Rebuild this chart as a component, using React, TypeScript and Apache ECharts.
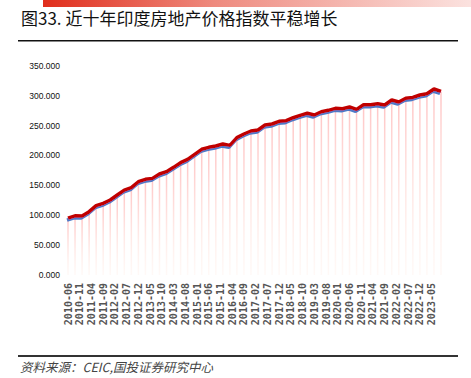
import React, { useEffect, useRef } from "react";
import * as echarts from "echarts";

// Quarterly index values, 2010-06 .. 2023-09
const quarterValues: number[] = [
  95, 99, 98.7, 105.9, 115.9, 119.9, 125.4, 133.8, 142, 146,
  156, 160, 161.6, 168.9, 172.8, 180, 187.8, 193.4, 201.8, 210.2,
  213.5, 215.7, 219, 216.8, 229.8, 235.8, 240.8, 242.5, 250.8, 252.5,
  257, 258, 263, 267, 270.4, 267.6, 273, 275.4, 278.7, 278,
  281, 277, 284.8, 284.8, 286.5, 284.3, 292.6, 289.3, 295.5, 297,
  301, 303, 311, 307,
];
const startYear = 2010;
const startMonth = 6;
const endYear = 2023;
const endMonth = 9;
const yTicks = [0, 50, 100, 150, 200, 250, 300, 350];

const titleText = "图33. 近十年印度房地产价格指数平稳增长";
const sourceText = "资料来源：CEIC,国投证券研究中心";

function buildMonths(): string[] {
  const out: string[] = [];
  let y = startYear;
  let m = startMonth;
  while (y < endYear || (y === endYear && m <= endMonth)) {
    out.push(`${y}-${m < 10 ? "0" + m : m}`);
    m++;
    if (m > 12) {
      m = 1;
      y++;
    }
  }
  return out;
}

export default function App() {
  const ref = useRef<HTMLDivElement>(null);
  useEffect(() => {
    if (!ref.current) return;
    const chart = echarts.init(ref.current, undefined, { renderer: "svg" });
    const months = buildMonths();
    const monthly: (number | null)[] = months.map(() => null);
    quarterValues.forEach((v, i) => {
      const idx = i * 3;
      if (idx < monthly.length) monthly[idx] = v;
    });
    chart.setOption({
      animation: false,
      backgroundColor: "#ffffff",
      title: {
        text: titleText,
        left: 16,
        top: 4,
        textStyle: {
          fontSize: 17,
          fontWeight: "normal",
          color: "#111",
          fontFamily: "Noto Sans CJK SC",
        },
      },
      graphic: {
        elements: [
          {
            type: "rect",
            shape: { x: 43, y: 0, width: 428, height: 7 },
            style: {
              fill: new echarts.graphic.LinearGradient(0, 0, 1, 0, [
                { offset: 0, color: "#E02E1C" },
                { offset: 0.4, color: "#EE8A7E" },
                { offset: 1, color: "#FBE2DF" },
              ]),
            },
            z: 100,
          },
          {
            type: "line",
            shape: { x1: 18, y1: 40.75, x2: 458, y2: 40.75 },
            style: { stroke: "#111", lineWidth: 1.5 },
            z: 100,
          },
          {
            type: "line",
            shape: { x1: 18, y1: 356, x2: 458, y2: 356 },
            style: { stroke: "#333", lineWidth: 2 },
            z: 100,
          },
          {
            type: "text",
            x: 20,
            y: 360,
            z: 100,
            style: {
              text: sourceText,
              fontSize: 12.5,
              fontStyle: "italic",
              fill: "#444",
              fontFamily: "Noto Sans CJK SC",
            },
          },
        ],
      },
      grid: { left: 68, right: 30, top: 65.7, bottom: 103 },
      xAxis: {
        type: "category",
        data: months,
        boundaryGap: false,
        axisLine: { show: false },
        axisTick: { show: false },
        axisLabel: {
          interval: 4,
          rotate: 90,
          margin: 8,
          fontSize: 10,
          fontWeight: "bold",
          color: "#555",
          fontFamily: "DejaVu Sans Mono",
        },
        splitLine: { show: false },
      },
      yAxis: {
        type: "value",
        min: yTicks[0],
        max: yTicks[yTicks.length - 1],
        interval: 50,
        axisLine: { show: false },
        axisTick: { show: false },
        splitLine: { show: false },
        axisLabel: {
          margin: 8,
          fontSize: 8.5,
          color: "#111",
          fontFamily: "Liberation Sans",
          formatter: (v: number) => v.toFixed(3),
        },
      },
      series: [
        {
          type: "bar",
          data: monthly,
          barWidth: 1.5,
          silent: true,
          itemStyle: {
            color: new echarts.graphic.LinearGradient(0, 0, 0, 1, [
              { offset: 0, color: "rgba(255,150,150,0.55)" },
              { offset: 1, color: "rgba(255,215,200,0.15)" },
            ]),
          },
          z: 1,
        },
        {
          type: "line",
          data: monthly,
          connectNulls: true,
          showSymbol: false,
          symbol: "none",
          lineStyle: {
            color: "#C00000",
            width: 3.5,
            shadowColor: "rgba(68,114,196,0.95)",
            shadowOffsetX: -1,
            shadowOffsetY: 2,
            shadowBlur: 0,
          },
          z: 3,
        },
      ],
    });
    return () => chart.dispose();
  }, []);
  return (
    <div
      ref={ref}
      style={{ position: "fixed", left: 0, top: 0, width: 471, height: 378 }}
    />
  );
}
